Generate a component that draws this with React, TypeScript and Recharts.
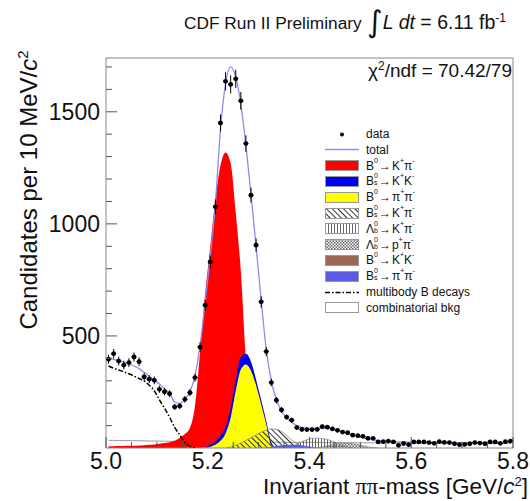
import React from "react";
import {
  ComposedChart,
  Area,
  Line,
  Scatter,
  ErrorBar,
  XAxis,
  YAxis,
  ReferenceArea,
} from "recharts";

const FONT = '"Liberation Sans", Arial, sans-serif';

// 80 bins of 10 MeV from 5.00 to 5.80 GeV
const massLow = 5.0;
const binWidth = 0.01;

const dataCounts = [
  396, 421, 388, 370, 381, 406, 385, 317, 307, 302,
  262, 251, 242, 183, 187, 217, 247, 314, 450, 637,
  830, 1076, 1450, 1636, 1622, 1647, 1549, 1358, 1128, 905,
  652, 430, 292, 213, 170, 138, 124, 91, 83, 82,
  82, 83, 95, 93, 85, 79, 71, 68, 57, 55,
  52, 43, 43, 27, 28, 31, 27, 12, 20, 15,
  27, 27, 27, 24, 21, 28, 25, 24, 19, 15,
  16, 19, 24, 22, 19, 27, 27, 21, 28, 31,
];

const totalFit = [
  400, 396, 390, 383, 375, 366, 354, 338, 320, 302,
  285, 265, 243, 205, 198, 218, 252, 322, 460, 650,
  855, 1090, 1420, 1625, 1700, 1655, 1535, 1350, 1130, 900,
  660, 440, 300, 215, 165, 135, 115, 100, 92, 88,
  86, 88, 90, 88, 84, 78, 72, 65, 58, 52,
  46, 41, 37, 33, 31, 29, 28, 27, 26, 26,
  26, 25, 25, 25, 24, 24, 24, 24, 23, 23,
  23, 23, 23, 23, 22, 22, 22, 22, 22, 22,
];

const combBkg = [
  34, 34, 33, 33, 33, 32, 32, 32, 31, 31,
  31, 30, 30, 30, 30, 29, 29, 29, 29, 28,
  28, 28, 28, 28, 27, 27, 27, 27, 27, 26,
  26, 26, 26, 26, 26, 25, 25, 25, 25, 25,
  25, 25, 24, 24, 24, 24, 24, 24, 24, 23,
  23, 23, 23, 23, 23, 23, 23, 23, 23, 22,
  22, 22, 22, 22, 22, 22, 22, 22, 22, 22,
  22, 22, 22, 22, 22, 21, 21, 21, 21, 21,
];

// components: first bin index + values
const multibodyStart = 0;
const multibody = [366, 356, 348, 340, 331, 321, 310, 298, 280, 255, 215, 178, 138, 92, 58, 25, 8, 0];

const b0KpiStart = 0;
const b0Kpi = [
  8, 8, 9, 9, 10, 10, 11, 12, 14, 16,
  19, 22, 26, 32, 46, 62, 90, 190, 430, 690,
  900, 1110, 1260, 1318, 1270, 1050, 790, 400, 200, 90,
  40, 15, 5, 0,
];

const bsKKStart = 18; // upper edge of the blue band
const bsKK = [0, 4, 14, 28, 55, 95, 180, 305, 405, 420, 385, 305, 215, 120, 25, 0];

const b0pipiStart = 18;
const b0pipi = [0, 2, 6, 14, 32, 65, 135, 255, 350, 373, 345, 280, 195, 105, 12, 0];

const bsKpiStart = 23;
const bsKpi = [0, 4, 12, 22, 34, 46, 58, 70, 80, 85, 84, 74, 56, 36, 20, 9, 3, 0];

const bsPipiStart = 30;
const bsPipi = [0, 2, 5, 9, 12, 13, 14, 13, 11, 8, 5, 2, 0];

const lbKpiStart = 35;
const lbKpi = [0, 6, 16, 28, 37, 42, 44, 42, 38, 30, 20, 11, 4, 0];

const lbPpiStart = 41;
const lbPpi = [0, 4, 10, 16, 20, 22, 22, 19, 15, 10, 5, 2, 0];

const yTicks = [0, 100, 200, 300, 400, 500, 600, 700, 800, 900, 1000, 1100, 1200, 1300, 1400, 1500, 1600, 1700];
const yLabels = [500, 1000, 1500];
const xTicks = [5.0, 5.05, 5.1, 5.15, 5.2, 5.25, 5.3, 5.35, 5.4, 5.45, 5.5, 5.55, 5.6, 5.65, 5.7, 5.75, 5.8];
const xLabels = [5.0, 5.2, 5.4, 5.6, 5.8];

const seg = (arr: number[], start: number, i: number) =>
  i >= start && i < start + arr.length ? arr[i - start] : undefined;

const table = dataCounts.map((count, i) => ({
  m: Math.round((massLow + binWidth * (i + 0.5)) * 1000) / 1000,
  count,
  errY: Math.sqrt(count),
  errX: binWidth / 2,
  total: totalFit[i],
  comb: combBkg[i],
  multibody: seg(multibody, multibodyStart, i),
  b0Kpi: seg(b0Kpi, b0KpiStart, i),
  bsKK: seg(bsKK, bsKKStart, i),
  b0pipi: seg(b0pipi, b0pipiStart, i),
  bsKpi: seg(bsKpi, bsKpiStart, i),
  bsPipi: seg(bsPipi, bsPipiStart, i),
  lbKpi: seg(lbKpi, lbKpiStart, i),
  lbPpi: seg(lbPpi, lbPpiStart, i),
}));

const YTick = (props: any) => {
  const { x, y, payload } = props;
  if (payload.value === 0) return null;
  const major = yLabels.includes(payload.value);
  return (
    <g>
      <line x1={x} x2={x + (major ? 11 : 6)} y1={y} y2={y} stroke="#555" />
      {major && (
        <text x={x - 6} y={y} dy={8} textAnchor="end" fontSize={23} fontFamily={FONT} fill="#111">
          {payload.value}
        </text>
      )}
    </g>
  );
};

const XTick = (props: any) => {
  const { x, y, payload } = props;
  const major = xLabels.some((v) => Math.abs(v - payload.value) < 1e-6);
  return (
    <g>
      <line x1={x} x2={x} y1={y} y2={y - (major ? 11 : 6)} stroke="#555" />
      {major && (
        <text x={x} y={y + 21} textAnchor="middle" fontSize={23} fontFamily={FONT} fill="#111">
          {payload.value.toFixed(1)}
        </text>
      )}
    </g>
  );
};

const Dot = (p: any) => <circle cx={p.cx} cy={p.cy} r={2.4} fill="#000" />;

// particle symbol with stacked superscript / subscript
const P = ({ b, sup, sub }: { b: string; sup?: string; sub?: string }) => (
  <span style={{ display: "inline-flex", alignItems: "flex-start" }}>
    {b}
    <span
      style={{
        display: "inline-flex",
        flexDirection: "column",
        fontSize: 7,
        lineHeight: "7px",
        marginTop: -2,
      }}
    >
      <span>{sup ?? "\u00a0"}</span>
      {sub && <span>{sub}</span>}
    </span>
  </span>
);

const Decay = ({ m, ms, d1, s1, d2, s2 }: any) => (
  <span style={{ display: "inline-flex", alignItems: "flex-start" }}>
    <P b={m} sup="0" sub={ms} />
    <span style={{ margin: "0 1px" }}>→</span>
    <P b={d1} sup={s1} />
    <P b={d2} sup={s2} />
  </span>
);

const legendRows: { kind: string; fill?: string; label: React.ReactNode }[] = [
  { kind: "dot", label: "data" },
  { kind: "line", label: "total" },
  { kind: "fill", fill: "#ff0000", label: <Decay m="B" d1="K" s1="+" d2="π" s2="-" /> },
  { kind: "fill", fill: "#0000f0", label: <Decay m="B" ms="s" d1="K" s1="+" d2="K" s2="-" /> },
  { kind: "fill", fill: "#ffff00", label: <Decay m="B" d1="π" s1="+" d2="π" s2="-" /> },
  { kind: "fill", fill: "url(#hatchDiag)", label: <Decay m="B" ms="s" d1="K" s1="+" d2="π" s2="-" /> },
  { kind: "fill", fill: "url(#hatchVert)", label: <Decay m="Λ" ms="b" d1="K" s1="+" d2="π" s2="-" /> },
  { kind: "fill", fill: "url(#hatchCross)", label: <Decay m="Λ" ms="b" d1="p" s1="+" d2="π" s2="-" /> },
  { kind: "fill", fill: "#9b6855", label: <Decay m="B" d1="K" s1="+" d2="K" s2="-" /> },
  { kind: "fill", fill: "#5a5ae6", label: <Decay m="B" ms="s" d1="π" s1="+" d2="π" s2="-" /> },
  { kind: "dash", label: "multibody B decays" },
  { kind: "fill", fill: "#ffffff", label: "combinatorial bkg" },
];

const Swatch = ({ kind, fill }: { kind: string; fill?: string }) => (
  <svg width={34} height={11} style={{ flex: "none" }}>
    {kind === "dot" && <circle cx={17} cy={5.5} r={2} fill="#000" />}
    {kind === "line" && <line x1={0} x2={34} y1={5.5} y2={5.5} stroke="#9090f0" strokeWidth={1.3} />}
    {kind === "dash" && (
      <line x1={0} x2={34} y1={5.5} y2={5.5} stroke="#000" strokeWidth={1.5} strokeDasharray="5 2 1.5 2" />
    )}
    {kind === "fill" && <rect x={0.5} y={0.5} width={33} height={10} fill={fill} stroke="#999" strokeWidth={1} />}
  </svg>
);

export default function App() {
  return (
    <div
      style={{
        position: "absolute",
        left: 0,
        top: 0,
        width: 530,
        height: 501,
        background: "#fff",
        fontFamily: FONT,
        color: "#111",
      }}
    >
      <svg width={0} height={0} style={{ position: "absolute" }}>
        <defs>
          <pattern id="hatchDiag" patternUnits="userSpaceOnUse" width={4} height={4} patternTransform="rotate(-45)">
            <line x1={0.5} y1={0} x2={0.5} y2={4} stroke="#333" strokeWidth={1} />
          </pattern>
          <pattern id="hatchVert" patternUnits="userSpaceOnUse" width={3} height={3}>
            <line x1={0.5} y1={0} x2={0.5} y2={3} stroke="#666" strokeWidth={1} />
          </pattern>
          <pattern id="hatchCross" patternUnits="userSpaceOnUse" width={3} height={3}>
            <rect x={0} y={0} width={1.5} height={1.5} fill="#666" />
            <rect x={1.5} y={1.5} width={1.5} height={1.5} fill="#666" />
          </pattern>
        </defs>
      </svg>

      <ComposedChart
        width={530}
        height={501}
        data={table}
        margin={{ top: 58, right: 17, bottom: 23, left: 46 }}
      >
        <XAxis
          dataKey="m"
          type="number"
          domain={[5.0, 5.8]}
          allowDataOverflow
          ticks={xTicks}
          interval={0}
          tick={<XTick />}
          tickSize={0}
          tickMargin={0}
          tickLine={false}
          axisLine={false}
          height={30}
        />
        <YAxis
          type="number"
          domain={[0, 1740]}
          allowDataOverflow
          ticks={yTicks}
          interval={0}
          tick={<YTick />}
          tickSize={0}
          tickMargin={0}
          tickLine={false}
          axisLine={false}
          width={60}
        />
        <Area dataKey="comb" type="monotone" fill="#ffffff" fillOpacity={1} stroke="#999" strokeWidth={1} isAnimationActive={false} />
        <Area dataKey="b0Kpi" type="monotone" fill="#ff0000" fillOpacity={1} stroke="none" isAnimationActive={false} />
        <Area dataKey="bsKK" type="monotone" fill="#0000f0" fillOpacity={1} stroke="none" isAnimationActive={false} />
        <Area dataKey="b0pipi" type="monotone" fill="#ffff00" fillOpacity={1} stroke="none" isAnimationActive={false} />
        <Area dataKey="bsKpi" type="monotone" fill="url(#hatchDiag)" fillOpacity={1} stroke="#888" strokeWidth={0.8} isAnimationActive={false} />
        <Area dataKey="lbKpi" type="monotone" fill="url(#hatchVert)" fillOpacity={1} stroke="#888" strokeWidth={0.8} isAnimationActive={false} />
        <Area dataKey="lbPpi" type="monotone" fill="url(#hatchCross)" fillOpacity={1} stroke="#888" strokeWidth={0.8} isAnimationActive={false} />
        <Area dataKey="bsPipi" type="monotone" fill="#5a5ae6" fillOpacity={1} stroke="none" isAnimationActive={false} />
        <Line dataKey="multibody" type="monotone" stroke="#000" strokeWidth={1.5} strokeDasharray="5 2 1.5 2" dot={false} isAnimationActive={false} />
        <Line dataKey="total" type="monotone" stroke="#8c8cf0" strokeWidth={1.3} dot={false} isAnimationActive={false} />
        <Scatter dataKey="count" shape={<Dot />} isAnimationActive={false}>
          <ErrorBar dataKey="errY" direction="y" width={0} stroke="#000" strokeWidth={1} />
          <ErrorBar dataKey="errX" direction="x" width={0} stroke="#000" strokeWidth={1} />
        </Scatter>
        <ReferenceArea x1={5.0} x2={5.8} y1={0} y2={1740} fill="none" stroke="#888" strokeWidth={1} />
      </ComposedChart>

      <div style={{ position: "absolute", left: 184, top: 4, whiteSpace: "nowrap", fontSize: 19.5, lineHeight: "30px" }}>
        <span style={{ fontSize: 17.3 }}>CDF Run II Preliminary</span>{" "}
        <span style={{ fontSize: 30, position: "relative", top: 3, fontFamily: '"DejaVu Sans"' }}>∫</span>
        <i>L dt</i> = 6.11 fb<sup style={{ fontSize: 12, lineHeight: 0 }}>-1</sup>
      </div>

      <div style={{ position: "absolute", left: 368, top: 60, whiteSpace: "nowrap", fontSize: 19 }}>
        χ<sup style={{ fontSize: 12, lineHeight: 0 }}>2</sup>/ndf = 70.42/79
      </div>

      <div
        style={{
          position: "absolute",
          left: 29,
          top: 190,
          transform: "translate(-50%, -50%) rotate(-90deg)",
          whiteSpace: "nowrap",
          fontSize: 24,
          lineHeight: "24px",
        }}
      >
        Candidates per 10 MeV/<i>c</i>
        <sup style={{ fontSize: 15, lineHeight: 0 }}>2</sup>
      </div>

      <div
        style={{
          position: "absolute",
          right: 2,
          top: 477,
          whiteSpace: "nowrap",
          fontSize: 22.5,
          lineHeight: "20px",
        }}
      >
        Invariant <span style={{ fontFamily: '"Liberation Serif", serif' }}>ππ</span>-mass [GeV/<i>c</i>
        <sup style={{ fontSize: 13, lineHeight: 0 }}>2</sup>]
      </div>

      {legendRows.map((row, i) => (
        <div
          key={i}
          style={{
            position: "absolute",
            left: 325,
            top: 134 + i * 15.8 - 7,
            height: 14,
            display: "flex",
            alignItems: "center",
            whiteSpace: "nowrap",
            fontSize: 12,
          }}
        >
          <Swatch kind={row.kind} fill={row.fill} />
          <span style={{ marginLeft: 7, display: "inline-flex", alignItems: "center" }}>{row.label}</span>
        </div>
      ))}
    </div>
  );
}
